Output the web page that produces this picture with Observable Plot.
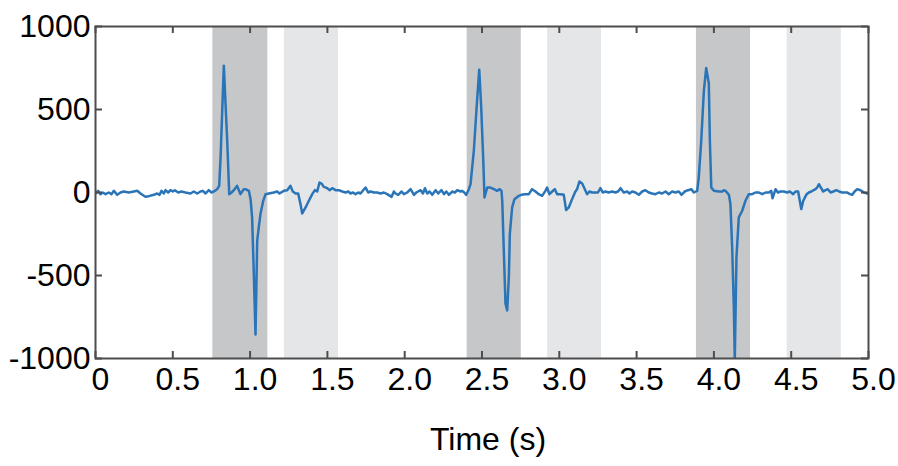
<!DOCTYPE html>
<html>
<head>
<meta charset="utf-8">
<script src="https://cdn.jsdelivr.net/npm/d3@7"></script>
<script src="https://cdn.jsdelivr.net/npm/@observablehq/plot@0.6"></script>
<style>
  html, body { margin: 0; padding: 0; background: #fff; }
  #chart { width: 898px; height: 466px; }
</style>
</head>
<body>
<div id="chart"></div>
<script>
// ---- data ----
const signalTime = [
  0.000,0.017,0.032,0.047,0.065,0.086,0.103,0.119,0.140,0.162,0.183,0.216,0.248,0.270,0.291,0.323,0.345,0.377,0.399,0.414,
  0.427,0.442,0.453,0.470,0.485,0.500,0.513,0.535,0.556,0.582,0.614,0.636,0.658,0.679,0.694,0.712,0.733,0.750,0.765,0.787,
  0.800,0.809,0.819,0.830,0.852,0.865,0.880,0.895,0.916,0.938,0.959,0.970,0.992,1.003,1.013,1.024,1.035,1.046,1.056,1.067,
  1.085,1.100,1.121,1.153,1.175,1.190,1.218,1.240,1.261,1.276,1.294,1.311,1.326,1.337,1.359,1.380,1.402,1.419,1.434,1.449,
  1.462,1.477,1.499,1.514,1.531,1.553,1.574,1.596,1.617,1.635,1.650,1.665,1.682,1.700,1.714,1.725,1.747,1.764,1.779,1.801,
  1.822,1.844,1.865,1.887,1.915,1.930,1.941,1.958,1.980,1.995,2.016,2.038,2.060,2.075,2.103,2.118,2.131,2.146,2.161,2.178,
  2.200,2.217,2.238,2.254,2.269,2.286,2.307,2.325,2.340,2.361,2.372,2.385,2.398,2.415,2.426,2.447,2.465,2.482,2.495,2.508,
  2.516,2.534,2.555,2.577,2.598,2.615,2.626,2.631,2.641,2.652,2.663,2.674,2.680,2.695,2.710,2.738,2.755,2.777,2.803,2.824,
  2.846,2.867,2.889,2.910,2.921,2.936,2.954,2.971,2.986,3.007,3.029,3.044,3.061,3.083,3.104,3.115,3.130,3.148,3.165,3.180,
  3.195,3.212,3.234,3.250,3.266,3.281,3.298,3.320,3.342,3.363,3.380,3.396,3.417,3.439,3.454,3.471,3.493,3.514,3.536,3.557,
  3.579,3.600,3.622,3.644,3.665,3.687,3.708,3.730,3.751,3.773,3.790,3.811,3.833,3.855,3.870,3.892,3.902,3.918,3.935,3.950,
  3.967,3.974,3.983,4.000,4.032,4.054,4.065,4.075,4.090,4.097,4.107,4.118,4.129,4.135,4.146,4.161,4.183,4.204,4.226,4.247,
  4.269,4.291,4.313,4.334,4.356,4.371,4.379,4.399,4.414,4.431,4.452,4.474,4.491,4.513,4.528,4.545,4.565,4.578,4.600,4.614,
  4.630,4.657,4.668,4.679,4.694,4.707,4.722,4.737,4.755,4.772,4.793,4.810,4.830,4.862,4.880,4.895,4.910,4.927,4.949,4.970,
  4.992
];
const signalValue = [
  -6,10,-10,0,-10,0,-10,10,-14,0,6,0,6,10,-6,-26,-22,-14,-6,-14,
  10,-6,14,0,14,6,14,0,6,0,-6,6,-6,6,10,-6,14,0,6,20,
  40,210,472,764,310,-10,0,14,40,-10,20,20,10,-40,-150,-490,-855,-290,-210,-130,
  -50,-10,-6,0,6,-6,10,14,40,6,-6,-6,-70,-126,-90,-50,-10,14,6,60,
  54,34,26,14,26,14,14,6,0,6,-6,0,-10,0,-6,6,30,0,6,0,
  0,-6,0,-10,-26,6,-6,-14,6,-10,0,20,-14,0,14,-6,26,-6,6,-14,
  14,-6,14,-10,6,-14,6,0,14,6,10,0,-14,20,50,250,510,740,510,200,
  -30,30,30,20,10,20,10,-50,-350,-670,-710,-500,-250,-90,-40,-20,-14,-10,-10,20,
  6,-10,-20,10,30,-10,6,20,-10,-10,-14,-106,-90,-40,6,20,66,54,20,-10,
  6,0,0,0,26,0,6,0,6,0,6,26,0,6,-6,6,0,-14,6,14,
  0,-6,-10,0,-6,6,-10,6,0,6,-14,6,14,20,0,10,90,310,610,750,
  660,310,30,10,6,6,14,10,-6,-14,-70,-330,-690,-1010,-390,-150,-110,-50,-10,-10,
  0,0,-10,0,0,10,-35,20,0,6,6,0,6,-10,6,6,-100,-50,-10,0,
  6,20,30,50,26,6,14,20,0,6,14,6,0,0,-10,-14,6,20,14,0,
  -6
];
const bandStart = [0.759, 1.222, 2.404, 2.924, 3.887, 4.474];
const bandEnd   = [1.115, 1.572, 2.754, 3.273, 4.237, 4.824];
const bandShade = ["dark", "light", "dark", "light", "dark", "light"];
const xTicks = [0, 0.5, 1, 1.5, 2, 2.5, 3, 3.5, 4, 4.5, 5];
const xTickLabels = ["0", "0.5", "1.0", "1.5", "2.0", "2.5", "3.0", "3.5", "4.0", "4.5", "5.0"];
const yTicks = [-1000, -500, 0, 500, 1000];
const yTickLabels = ["-1000", "-500", "0", "500", "1000"];
const xLabel = "Time (s)";

// ---- build tables ----
const signal = signalTime.map((t, i) => ({t, v: signalValue[i]}));
const bands = bandStart.map((s, i) => ({start: s, end: bandEnd[i], shade: bandShade[i]}));
const shadeColor = {dark: "#c6c7c9", light: "#e5e6e8"};
const axisGray = "#4d4d4d";
const font = "'Liberation Sans', Arial, Helvetica, sans-serif";

const W = 898, H = 466, mL = 95, mR = 30, mT = 26, mB = 108, tick = 7;
const frameW = W - mL - mR, frameH = H - mT - mB;

const chart = Plot.plot({
  width: W,
  height: H,
  marginLeft: mL,
  marginRight: mR,
  marginTop: mT,
  marginBottom: mB,
  x: {domain: [0, 5]},
  y: {domain: [-1000, 1000]},
  style: {fontFamily: font, background: "white", color: "black"},
  marks: [
    Plot.rect(bands, {x1: "start", x2: "end", fill: d => shadeColor[d.shade]}),
    Plot.line(signal, {x: "t", y: "v", stroke: "#2a74b8", strokeWidth: 2.5, clip: true}),
    // inward tick marks on all four sides
    Plot.ruleX(xTicks, {x: d => d, insetTop: frameH - tick, stroke: axisGray, strokeWidth: 2}),
    Plot.ruleX(xTicks, {x: d => d, insetBottom: frameH - tick, stroke: axisGray, strokeWidth: 2}),
    Plot.ruleY(yTicks, {y: d => d, insetRight: frameW - tick, stroke: axisGray, strokeWidth: 2}),
    Plot.ruleY(yTicks, {y: d => d, insetLeft: frameW - tick, stroke: axisGray, strokeWidth: 2}),
    Plot.frame({stroke: axisGray, strokeWidth: 2}),
    // tick labels
    Plot.axisX({anchor: "bottom", ticks: xTicks, tickSize: 0, tickPadding: 9, dx: 5,
      tickFormat: d => xTickLabels[xTicks.indexOf(d)], fontSize: 32, color: "black",
      label: null}),
    Plot.axisY({anchor: "left", ticks: yTicks, tickSize: 0, tickPadding: 5,
      tickFormat: d => yTickLabels[yTicks.indexOf(d)], fontSize: 32, color: "black", label: null}),
    Plot.text([xLabel], {frameAnchor: "bottom", dx: 6, dy: 81, text: d => d, fontSize: 32, fill: "black", lineAnchor: "middle"})
  ]
});
document.getElementById("chart").append(chart);
</script>
</body>
</html>
